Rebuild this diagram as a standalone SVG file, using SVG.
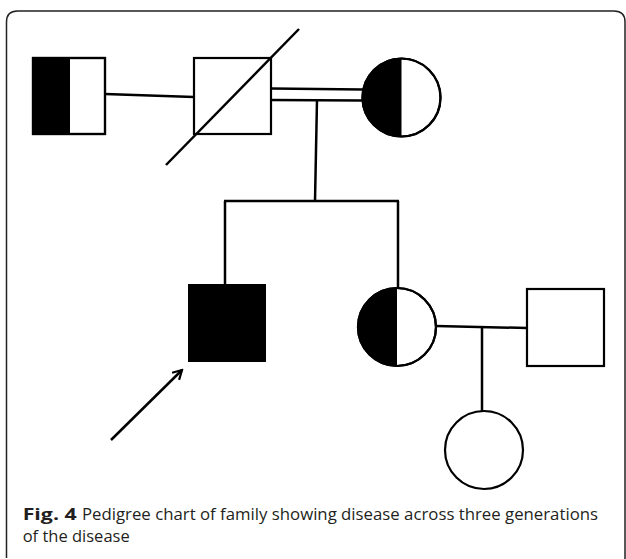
<svg xmlns="http://www.w3.org/2000/svg" width="626" height="559" viewBox="0 0 626 559">
<style>
.ln{stroke:#000;stroke-width:2.5;fill:none;stroke-linecap:butt}
.sym{stroke:#000;stroke-width:2.2;fill:#fff}
.blk{fill:#000}
.cap{font-family:"Open Sans","Liberation Sans",Arial,sans-serif;font-size:16px;fill:#231f20}
</style>
<defs>
<marker id="ah" viewBox="0 0 12 12" refX="10" refY="6" markerWidth="12" markerHeight="12" markerUnits="userSpaceOnUse" orient="auto">
<path d="M1,1 L10,6 L1,11" fill="none" stroke="#000" stroke-width="2.2"/>
</marker>
</defs>
<rect x="0" y="0" width="626" height="559" fill="#fff"/>
<path d="M6.5,558 L6.5,22 Q6.5,11 17.5,11 L614,11 Q625,11 625,22 L625,559" fill="none" stroke="#222" stroke-width="1.5"/>
<g id="connectors">
<line class="ln" x1="105" y1="94" x2="194" y2="97"/>
<line class="ln" x1="271" y1="88.5" x2="363" y2="89.5"/>
<line class="ln" x1="271" y1="100" x2="363" y2="100.5"/>
<line class="ln" x1="317" y1="100" x2="315" y2="201"/>
<line class="ln" x1="224" y1="201" x2="399" y2="201"/>
<line class="ln" x1="225" y1="201" x2="225" y2="284"/>
<line class="ln" x1="398" y1="201" x2="398" y2="289"/>
<line class="ln" x1="436" y1="326" x2="527" y2="328"/>
<line class="ln" x1="482" y1="327" x2="482" y2="411"/>
<line class="ln" x1="111" y1="440" x2="182" y2="370" marker-end="url(#ah)"/>
</g>
<g id="n1">
<rect class="sym" x="33" y="58" width="72" height="76"/>
<rect class="blk" x="33" y="58" width="37" height="76"/>
<rect x="33" y="58" width="72" height="76" fill="none" stroke="#000" stroke-width="2.2"/>
</g>
<g id="n2">
<rect class="sym" x="194" y="58" width="77" height="76"/>
<line class="ln" x1="166" y1="165" x2="299" y2="29"/>
</g>
<g id="n3">
<circle class="sym" cx="401.5" cy="97.5" r="39"/>
<path class="blk" d="M401.5,58.5 A39,39 0 0 0 401.5,136.5 Z"/>
<circle cx="401.5" cy="97.5" r="39" fill="none" stroke="#000" stroke-width="2.2"/>
</g>
<g id="n4">
<rect x="188" y="284" width="78" height="78" fill="#000"/>
</g>
<g id="n5">
<circle class="sym" cx="397" cy="327" r="39"/>
<path class="blk" d="M397,288 A39,39 0 0 0 397,366 Z"/>
<circle cx="397" cy="327" r="39" fill="none" stroke="#000" stroke-width="2.2"/>
</g>
<g id="n6">
<rect class="sym" x="527" y="289" width="77" height="77"/>
</g>
<g id="n7">
<circle class="sym" cx="484" cy="450" r="39"/>
</g>
<text class="cap" x="22.7" y="520" font-weight="bold" textLength="54" lengthAdjust="spacingAndGlyphs">Fig. 4</text>
<text class="cap" x="82" y="520" textLength="516" lengthAdjust="spacingAndGlyphs">Pedigree chart of family showing disease across three generations</text>
<text class="cap" x="22.7" y="542" textLength="107" lengthAdjust="spacingAndGlyphs">of the disease</text>
</svg>
